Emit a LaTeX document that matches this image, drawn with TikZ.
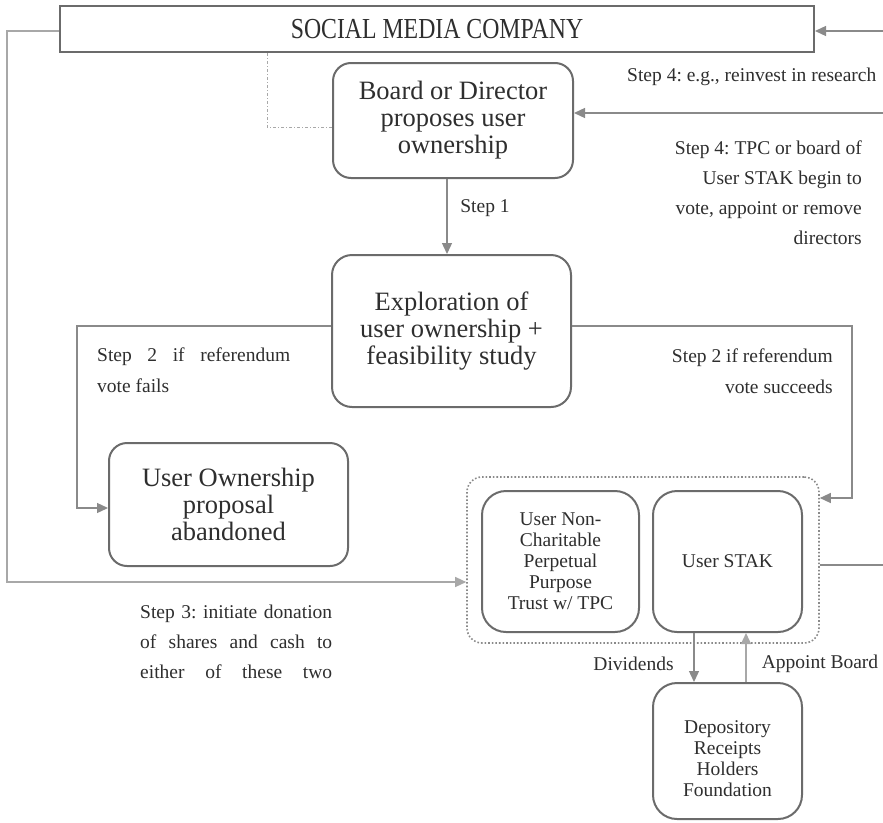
\documentclass[tikz,border=0pt]{standalone}
\usepackage{fontspec}
\usepackage{graphicx}
\setmainfont{Liberation Serif}
\usetikzlibrary{arrows.meta}
\frenchspacing
\definecolor{boxgray}{HTML}{6B6B6B}
\definecolor{linegray}{HTML}{8A8A8A}
\definecolor{lightline}{HTML}{A8A8A8}
\definecolor{txt}{HTML}{2E2E2E}
\newcommand{\bigfnt}{\fontsize{26.5}{27}\selectfont}
\newcommand{\smallfnt}{\fontsize{19.5}{21}\selectfont}
\tikzset{
  rbox/.style={draw=boxgray, line width=2pt, rounded corners=18pt, inner sep=0pt, align=center, font=\bigfnt, text=txt},
  sbox/.style={rbox, rounded corners=24pt, font=\smallfnt},
  conn/.style={draw=linegray, line width=1.3pt},
  arr/.style={conn, -{Triangle[length=11pt,width=10pt]}},
  lbl/.style={font=\smallfnt, inner sep=0pt, text=txt},
}
\begin{document}
\frenchspacing
\begin{tikzpicture}[x=1pt,y=-1pt]
\useasboundingbox (0,0) rectangle (883,822);
% nodes
\node[draw=boxgray, line width=2pt, minimum width=754pt, minimum height=46pt, inner sep=0pt, text=txt] (company) at (437,29)
  {\scalebox{0.82}[1]{\fontsize{29}{29}\selectfont SOCIAL MEDIA COMPANY}};
\node[rbox, minimum width=240pt, minimum height=115pt] (board) at (453,120.5)
  {Board or Director\\proposes user\\ownership};
\node[rbox, rounded corners=20pt, minimum width=239pt, minimum height=152pt] (explor) at (451.5,331)
  {Exploration of\\user ownership +\\feasibility study};
\node[rbox, minimum width=239pt, minimum height=123pt] (aband) at (228.5,504.5)
  {User Ownership\\proposal\\abandoned};
\node[draw=linegray, line width=1.6pt, dotted, rounded corners=15pt, minimum width=352pt, minimum height=166pt, inner sep=0pt] (group) at (643,560) {};
\node[sbox, minimum width=157pt, minimum height=141pt] (trust) at (560.5,561.5)
  {User Non-\\Charitable\\Perpetual\\Purpose\\Trust w/ TPC};
\node[sbox, minimum width=149pt, minimum height=141pt] (stak) at (727.5,561.5) {User STAK};
\node[sbox, minimum width=149pt, minimum height=136pt] (drhf) at (727.5,751) {};
\node[lbl, align=center] (drhftxt) at (727.5,759) {Depository\\Receipts\\Holders\\Foundation};
% free ends
\coordinate (r1) at (883,31);
\coordinate (r2) at (883,113);
\coordinate (r3) at (883,565);
% connectors
\draw[arr, draw=lightline] (company.west |- 0,31) -- (7,31) -- (7,582) -- (group.west |- 0,582);
\draw[arr] (r1) -- (company.east |- r1);
\draw[arr] (r2) -- (board.east |- r2);
\draw[draw=lightline, line width=1pt, dash dot] (company.south -| 267,0) -- (267,127) -- (board.west |- 0,127);
\draw[arr] (board.south -| 447,0) -- (explor.north -| 447,0);
\draw[arr] (explor.west |- 0,326) -- (77,326) -- (77,508) -- (aband.west |- 0,508);
\draw[arr] (explor.east |- 0,326) -- (852,326) -- (852,498) -- (group.east |- 0,498);
\draw[conn] (group.east |- r3) -- (r3);
\draw[arr] (stak.south -| 694,0) -- (drhf.north -| 694,0);
\draw[arr, draw=lightline] (drhf.north -| 746,0) -- (stak.south -| 746,0);
% labels
\node[lbl, anchor=west] (l4a) at (627,77) {Step 4: e.g., reinvest in research};
\node[lbl, anchor=east, align=right, font=\fontsize{19.5}{30}\selectfont] (l4b) at (862,192.5)
  {Step 4: TPC or board of\\User STAK begin to\\vote, appoint or remove\\directors};
\node[lbl] (l1) at (485,208) {Step 1};
\node[lbl, anchor=west, align=left, font=\fontsize{19.5}{31}\selectfont] (l2a) at (97,370.5)
  {\makebox[193pt][s]{Step 2 if referendum}\\vote fails};
\node[lbl, anchor=east, align=right, font=\fontsize{19.5}{31}\selectfont] (l2b) at (833,371.5)
  {Step 2 if referendum\\vote succeeds};
\node[lbl, anchor=west, align=left, font=\fontsize{19.5}{30}\selectfont] (l3) at (140,642)
  {\makebox[192pt][s]{Step 3: initiate donation}\\\makebox[192pt][s]{of shares and cash to}\\\makebox[192pt][s]{either of these two}};
\node[lbl] (ldiv) at (633.5,664) {Dividends};
\node[lbl] (lapp) at (820,664) {Appoint Board};
\end{tikzpicture}
\end{document}
